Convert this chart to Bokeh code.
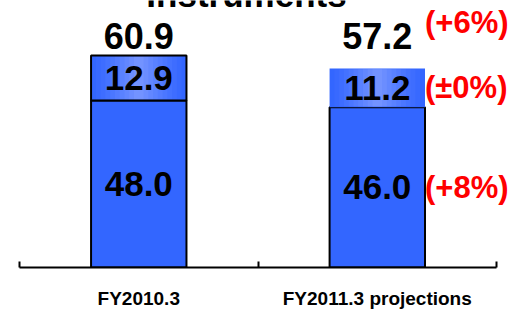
from bokeh.plotting import figure
from bokeh.models import (ColumnDataSource, Range1d, LinearAxis,
                          FixedTicker, LabelSet, Label)
from bokeh.core.properties import value
from bokeh.embed import file_html
from bokeh.resources import INLINE

# ---- data ----
categories = ["FY2010.3", "FY2011.3 projections"]
lower_values = [48.0, 46.0]
upper_values = [12.9, 11.2]
totals = [60.9, 57.2]
change_labels = ["(+6%)", "(\u00b10%)", "(+8%)"]   # total, upper, lower (projection year)
title_text = "Instruments"

FONT = "Liberation Sans"
BLUE = "#3366FF"
LIGHT = "#7393FF"
BW = 0.40

n = len(categories)
xs = [i + 0.5 for i in range(n)]          # category centres

Y_END = 76.7
FRAME_H = 267
px_per_unit = FRAME_H / Y_END

p = figure(x_range=Range1d(0, n + 0.092), y_range=Range1d(0, Y_END),
           width=518, height=312, output_backend="svg", toolbar_location=None,
           x_axis_location=None, y_axis_location=None,
           min_border_left=19, min_border_right=0, min_border_top=0,
           min_border_bottom=312 - FRAME_H)
p.outline_line_color = None
p.xgrid.visible = False
p.ygrid.visible = False
p.background_fill_color = None
p.border_fill_color = None

bottoms_upper = [lo for lo in lower_values]
tops_upper = [lo + up for lo, up in zip(lower_values, upper_values)]

src = ColumnDataSource(dict(x=xs, lower=lower_values,
                            upper_bottom=bottoms_upper, upper_top=tops_upper,
                            total=totals))

# lower segments
p.vbar(x="x", bottom=0, top="lower", width=BW, source=src,
       fill_color=BLUE, line_color="black", line_width=2)

# upper segments with horizontal gradient (light centre)
def mix(c1, c2, t):
    a = [int(c1[i:i + 2], 16) for i in (1, 3, 5)]
    b = [int(c2[i:i + 2], 16) for i in (1, 3, 5)]
    return "#" + "".join("%02x" % round(a[i] + (b[i] - a[i]) * t) for i in range(3))

p.vbar(x="x", bottom="upper_bottom", top="upper_top", width=BW,
       source=src, fill_color=BLUE, line_color=None)
inset = 1.2 / px_per_unit
src_in = ColumnDataSource(dict(x=xs, b=[v + inset for v in bottoms_upper],
                               t=[v - inset for v in tops_upper]))
N = 10
for k in range(1, N):
    frac = 1 - k / N
    p.vbar(x="x", bottom="b", top="t", width=BW * frac,
           source=src_in, fill_color=mix(BLUE, LIGHT, (k / (N - 1)) ** 1.2),
           line_color=None)

# outline only on the first upper segment
src_out = ColumnDataSource(dict(x=xs[:1], b=bottoms_upper[:1], t=tops_upper[:1]))
p.vbar(x="x", bottom="b", top="t", width=BW, source=src_out,
       fill_color=None, line_color="black", line_width=2)

# segment value labels
seg = ColumnDataSource(dict(
    x=xs * 2,
    y=[lo / 2 for lo in lower_values] + [lo + up / 2 for lo, up in zip(lower_values, upper_values)],
    txt=["%.1f" % v for v in lower_values] + ["%.1f" % v for v in upper_values]))
p.add_layout(LabelSet(x="x", y="y", text="txt", source=seg,
                      text_font=value(FONT), text_font_style="bold",
                      text_font_size="35px", text_align="center",
                      text_baseline="middle", text_color="black"))

# total labels
label_y = max(totals) + 5.5
tot = ColumnDataSource(dict(x=xs, y=[label_y] * n,
                            txt=["%.1f" % v for v in totals]))
p.add_layout(LabelSet(x="x", y="y", text="txt", source=tot,
                      text_font=value(FONT), text_font_style="bold",
                      text_font_size="36px", text_align="center",
                      text_baseline="middle", text_color="black"))

# change labels (red) for the projection bar
last = n - 1
chg = ColumnDataSource(dict(
    x=[xs[last] + BW / 2] * 3,
    y=[max(totals) + 9.5,
       lower_values[last] + upper_values[last] / 2,
       lower_values[last] / 2],
    txt=change_labels))
p.add_layout(LabelSet(x="x", y="y", text="txt", source=chg, x_offset=0,
                      text_font=value(FONT), text_font_style="bold",
                      text_font_size="31px", text_align="left",
                      text_baseline="middle", text_color="#FF0000"))

# partially visible title (cut by the top edge, as in the original)
p.add_layout(Label(x=227, y=FRAME_H + 6, x_units="screen", y_units="screen",
                   text=title_text, text_font=FONT,
                   text_font_style="bold", text_font_size="35px",
                   text_align="center", text_baseline="alphabetic",
                   text_color="black"))

# axis line with ticks at category boundaries
edge_ticks = list(range(n + 1))
edge_axis = LinearAxis(ticker=FixedTicker(ticks=edge_ticks), bounds=(0, n),
                       major_label_overrides={t: "" for t in edge_ticks},
                       major_tick_in=6, major_tick_out=0,
                       minor_tick_line_color=None,
                       major_tick_line_width=2, axis_line_width=2,
                       axis_line_color="black", major_tick_line_color="black",
                       major_label_standoff=0)
p.add_layout(edge_axis, "below")

# category labels at category centres
cat_axis = LinearAxis(ticker=FixedTicker(ticks=xs), bounds=(0, n),
                      major_label_overrides={x: c for x, c in zip(xs, categories)},
                      axis_line_color=None, major_tick_line_color=None,
                      minor_tick_line_color=None,
                      major_label_text_font=FONT,
                      major_label_text_font_style="bold",
                      major_label_text_font_size="19px",
                      major_label_text_color="black",
                      major_label_standoff=14)
p.add_layout(cat_axis, "below")

open("out.html", "w").write(file_html(p, INLINE))
